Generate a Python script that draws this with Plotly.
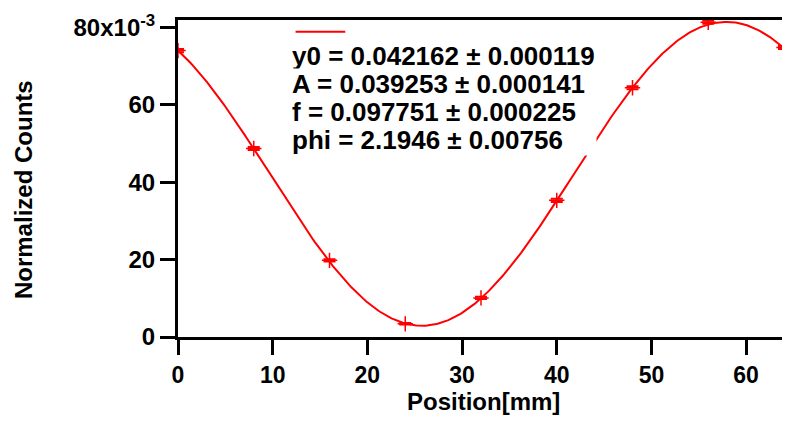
import numpy as np
import plotly.graph_objects as go

# Measured data
position_mm = [0, 8, 16, 24, 32, 40, 48, 56, 64]
counts = [0.0740, 0.0487, 0.0198, 0.0034, 0.0101, 0.0353, 0.0644, 0.0813, 0.0748]
count_err = [0.0004, 0.0004, 0.0003, 0.0002, 0.0003, 0.0004, 0.0004, 0.0004, 0.0004]

# Fit parameters (y0 + A*sin(f*x + phi)) shown in the chart
fit_y0, fit_A, fit_f, fit_phi = 0.042162, 0.039253, 0.097751, 2.1946
fit_text = [
    "y0 = 0.042162 ± 0.000119",
    "A = 0.039253 ± 0.000141",
    "f = 0.097751 ± 0.000225",
    "phi = 2.1946 ± 0.00756",
]

# Axis ticks
y_tickvals = [0, 0.02, 0.04, 0.06, 0.08]
y_ticktext = ["0", "20", "40", "60", "80x10<sup>-3</sup>"]
x_tickvals = [0, 10, 20, 30, 40, 50, 60]

fit_x = np.linspace(0, 64, 400)
fit_y = fit_y0 + fit_A * np.sin(fit_f * fit_x + fit_phi)

FONT = "Liberation Sans, Arial, sans-serif"
RED = "#ff0000"

fig = go.Figure()
fig.add_trace(go.Scatter(
    x=fit_x, y=fit_y, mode="lines",
    line=dict(color=RED, width=2), showlegend=False, hoverinfo="skip",
))
fig.add_trace(go.Scatter(
    x=position_mm, y=counts, mode="markers",
    marker=dict(symbol="cross-thin", size=11, line=dict(color=RED, width=1.5), color=RED),
    error_y=dict(type="data", array=count_err, visible=True, color=RED, thickness=2, width=6),
    showlegend=False,
))

# fit result text, one line per annotation (white box like the original)
line_y = [0.885, 0.798, 0.709, 0.621]
for txt, yy in zip(fit_text, line_y):
    fig.add_annotation(
        xref="paper", yref="paper", x=0.187, y=yy, xanchor="left", yanchor="middle",
        text=txt, align="left", showarrow=False, width=304,
        bgcolor="white", borderpad=0,
        font=dict(family=FONT, size=26, color="black", weight="bold"),
    )
fig.add_shape(
    type="line", xref="paper", yref="paper", x0=0.194, x1=0.276, y0=0.963, y1=0.963,
    line=dict(color=RED, width=2),
)
fig.add_annotation(
    xref="paper", yref="paper", x=-0.2545, y=0.466, xanchor="center", yanchor="middle",
    text="Normalized Counts", textangle=-90, showarrow=False,
    font=dict(family=FONT, size=24, color="black", weight="bold"),
)
fig.add_annotation(
    xref="paper", yref="paper", x=0.504, y=-0.2025, xanchor="center", yanchor="middle",
    text="Position[mm]", showarrow=False,
    font=dict(family=FONT, size=24, color="black", weight="bold"),
)

# figure is offset 8px by the page body margin; sizes compensate for it
fig.update_layout(
    width=782, height=428,
    margin=dict(l=170, r=3, t=7, b=99),
    paper_bgcolor="white", plot_bgcolor="white",
    font=dict(family=FONT, size=24, color="black", weight="bold"),
    xaxis=dict(
        range=[0, 64], tickvals=x_tickvals, ticks="outside", ticklen=15, tickwidth=3,
        tickcolor="black", showline=True, linewidth=3, linecolor="black", mirror=True,
        showgrid=False, zeroline=False, ticklabelstandoff=0,
        tickfont=dict(family=FONT, size=23, weight="bold"),
    ),
    yaxis=dict(
        range=[0, 0.0819], tickvals=y_tickvals, ticktext=y_ticktext, ticks="outside",
        ticklen=15, tickwidth=3, tickcolor="black", showline=True, linewidth=3,
        linecolor="black", mirror=True, showgrid=False, zeroline=False,
        ticklabelstandoff=0, ticklabeloverflow="allow",
        tickfont=dict(family=FONT, size=24, weight="bold"),
    ),
)

fig.write_html("out.html")
